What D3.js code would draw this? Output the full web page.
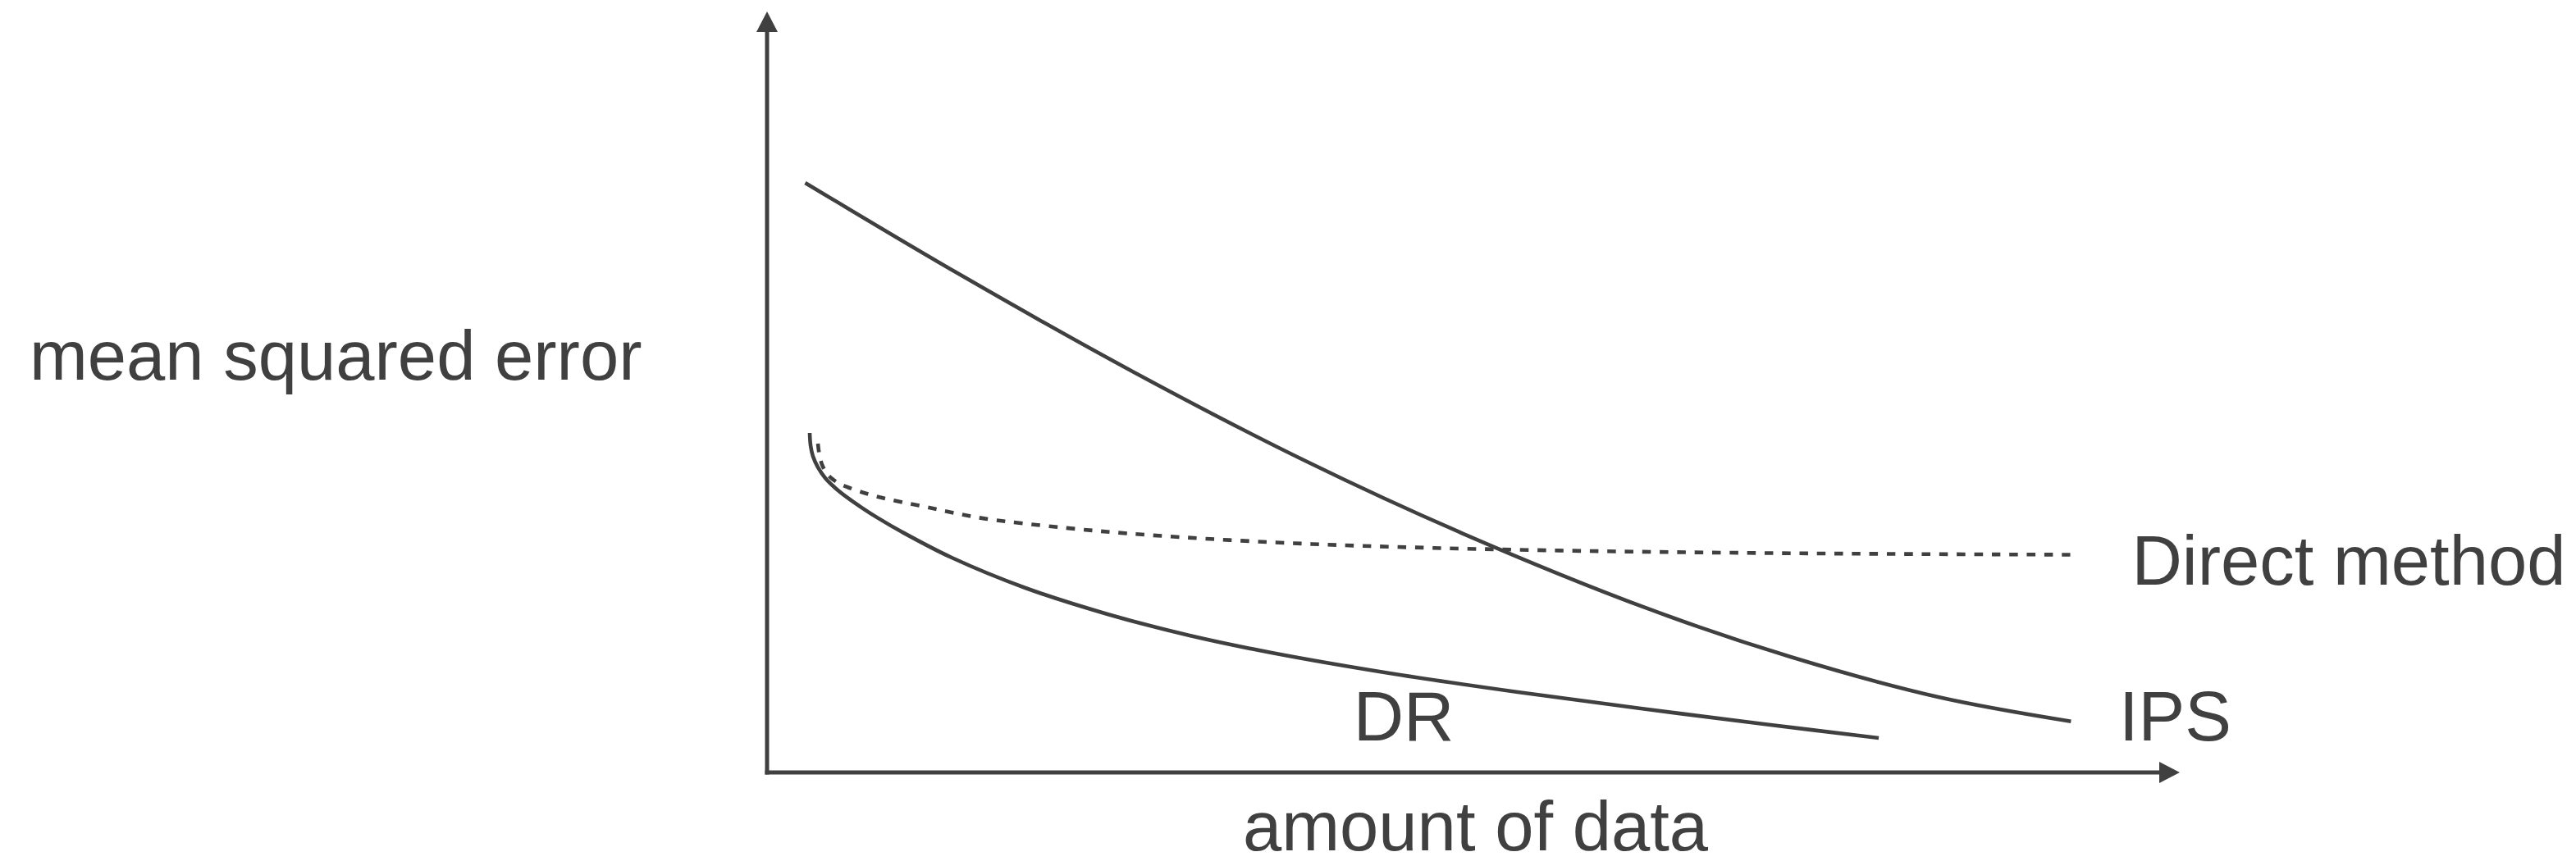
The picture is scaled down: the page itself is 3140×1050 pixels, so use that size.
<!DOCTYPE html>
<html>
<head>
<meta charset="utf-8">
<script src="https://cdn.jsdelivr.net/npm/d3@7"></script>
<style>
  html, body { margin: 0; padding: 0; background: #ffffff; }
  svg { display: block; }
  text { font-family: "Liberation Sans", Arial, Helvetica, sans-serif; fill: #404040; }
</style>
</head>
<body>
<svg id="chart" width="3140" height="1050"></svg>
<script>
// Sketch of estimator error versus sample size (arbitrary units, 0-10 on both axes).

// amount of data (x) and mean squared error (y) for the IPS estimator
const ipsX = [0.27, 1.37, 2.60, 3.81, 4.92, 6.25, 7.24, 8.29, 9.23];
const ipsY = [7.74, 6.53, 5.25, 4.09, 3.14, 2.14, 1.52, 0.99, 0.67];

// doubly robust estimator
const drX = [0.302, 0.308, 0.325, 0.360, 0.412, 0.482, 0.569, 0.668, 0.784, 0.958, 1.307, 1.829, 2.410, 2.991, 3.571, 4.443, 5.314, 6.185, 7.056, 7.869];
const drY = [4.456, 4.294, 4.149, 4.006, 3.865, 3.736, 3.607, 3.479, 3.341, 3.154, 2.820, 2.422, 2.078, 1.798, 1.572, 1.292, 1.055, 0.840, 0.635, 0.452];

// direct method (model-based) estimator
const dmX = [0.360, 0.372, 0.395, 0.436, 0.494, 0.569, 0.685, 0.813, 0.958, 1.132, 1.307, 1.539, 2.120, 2.700, 3.571, 4.443, 5.604, 6.765, 7.927, 9.233];
const dmY = [4.316, 4.155, 4.015, 3.897, 3.811, 3.746, 3.671, 3.606, 3.547, 3.482, 3.412, 3.333, 3.209, 3.117, 3.022, 2.961, 2.913, 2.885, 2.869, 2.858];

// curve labels: text and the data position of each label's baseline start
const labelText = ["Direct method", "IPS", "DR"];
const labelX = [9.66, 9.57, 4.15];
const labelY = [2.47, 0.42, 0.42];

const xTitle = "amount of data";
const yTitle = "mean squared error";

const ink = "#404040";
const fontSize = 85;
const svg = d3.select("#chart");

const x = d3.scaleLinear().domain([0, 10]).range([935, 2657]);
const y = d3.scaleLinear().domain([0, 10]).range([942, 13]);

// arrowheads for the two axes
const defs = svg.append("defs");
defs.append("marker")
  .attr("id", "arrow")
  .attr("viewBox", "0 0 26 26")
  .attr("refX", 0).attr("refY", 13)
  .attr("markerWidth", 26).attr("markerHeight", 26)
  .attr("markerUnits", "userSpaceOnUse")
  .attr("orient", "auto")
  .append("path")
  .attr("d", "M0,0 L25,13 L0,26 Z")
  .attr("fill", ink);

// y axis (arrow up) and x axis (arrow right)
svg.append("line")
  .attr("x1", x(0)).attr("y1", y(0) + 2.5)
  .attr("x2", x(0)).attr("y2", y(10) + 26)
  .attr("stroke", ink).attr("stroke-width", 5)
  .attr("marker-end", "url(#arrow)");

svg.append("line")
  .attr("x1", x(0) - 2.5).attr("y1", y(0))
  .attr("x2", x(10) - 25).attr("y2", y(0))
  .attr("stroke", ink).attr("stroke-width", 5)
  .attr("marker-end", "url(#arrow)");

const line = d3.line()
  .x(d => x(d[0]))
  .y(d => y(d[1]))
  .curve(d3.curveCatmullRom.alpha(0.5));

const series = [
  { xs: ipsX, ys: ipsY, dash: null },
  { xs: drX, ys: drY, dash: null },
  { xs: dmX, ys: dmY, dash: "10.5 10.8" }
];

svg.append("g")
  .selectAll("path")
  .data(series)
  .join("path")
  .attr("d", s => line(d3.zip(s.xs, s.ys)))
  .attr("fill", "none")
  .attr("stroke", ink)
  .attr("stroke-width", 4.6)
  .attr("stroke-dasharray", s => s.dash);

// curve labels
svg.append("g")
  .selectAll("text")
  .data(labelText)
  .join("text")
  .attr("x", (d, i) => x(labelX[i]))
  .attr("y", (d, i) => y(labelY[i]))
  .attr("font-size", fontSize)
  .text(d => d);

// axis titles
svg.append("text")
  .attr("x", 36).attr("y", 463)
  .attr("font-size", fontSize)
  .text(yTitle);

svg.append("text")
  .attr("x", 1515).attr("y", 1037)
  .attr("font-size", fontSize)
  .text(xTitle);
</script>
</body>
</html>
